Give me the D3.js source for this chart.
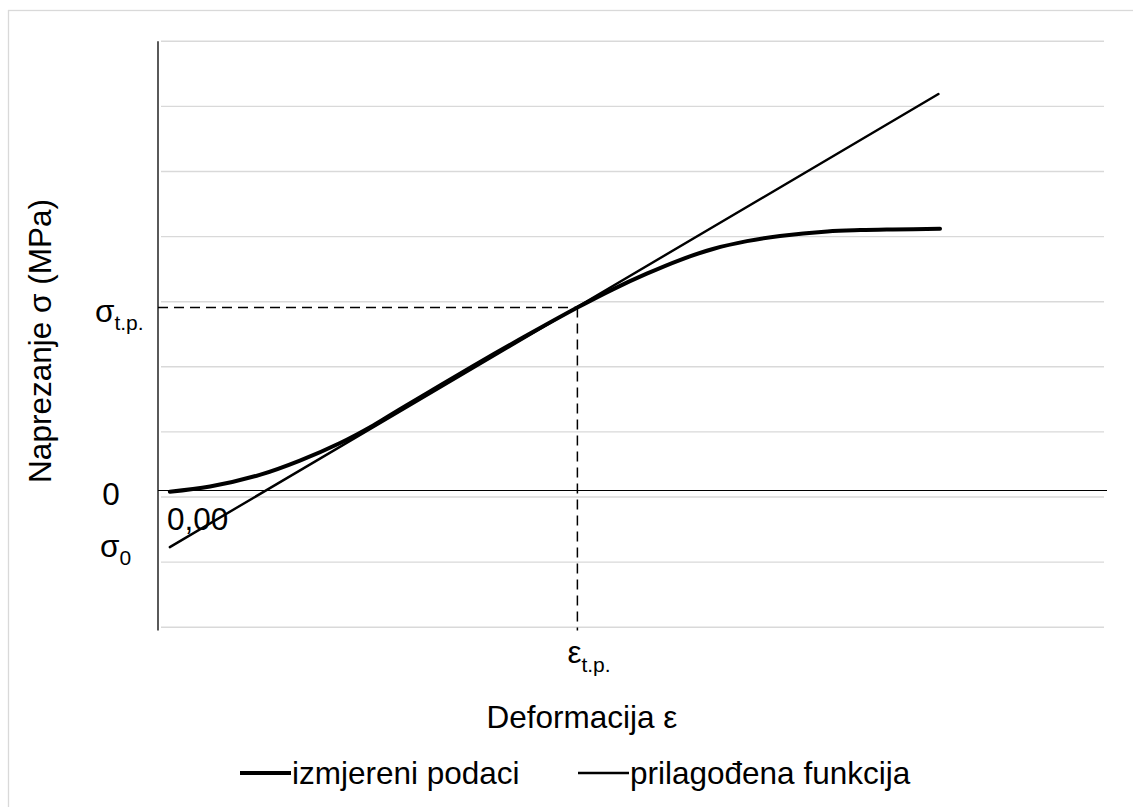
<!DOCTYPE html>
<html lang="hr">
<head>
<meta charset="UTF-8">
<title>Naprezanje - deformacija</title>
<script src="https://d3js.org/d3.v7.min.js"></script>
<style>
  body { margin: 0; background: #fff; }
  svg text { font-family: "Liberation Sans", Arial, sans-serif; fill: #000; }
</style>
</head>
<body>
<svg width="1133" height="807"></svg>
<script>
// izmjereni podaci (deformacija, naprezanje)
const measX = [0.15, 0.66, 1.29, 1.80, 2.31, 2.73, 3.07, 3.45, 4.08, 4.72, 5.32, 5.77, 6.20, 6.62, 7.04, 7.47, 7.89, 8.49, 8.91, 9.32, 9.92];
const measY = [-0.02, 0.06, 0.24, 0.46, 0.73, 1.00, 1.25, 1.52, 1.97, 2.41, 2.81, 3.09, 3.33, 3.54, 3.71, 3.83, 3.91, 3.98, 4.00, 4.01, 4.02];

// prilagođena funkcija (pravac)
const fitX = [0.15, 9.9];
const fitY = [-0.87, 6.09];

// točka prijelaza
const epsTp = 5.32;
const sigTp = 2.81;
const sigma0 = -0.87;

const gridVals = [-2.1, -1.1, -0.1, 0.9, 1.9, 2.9, 3.9, 4.9, 5.9, 6.9];
const seriesNames = ["izmjereni podaci", "prilagođena funkcija"];

const svg = d3.select("svg");

const x = d3.scaleLinear().domain([0, 12]).range([158, 1104]);
const y = d3.scaleLinear().domain([-2.1, 6.9]).range([627.2, 41.3]);

const fs = 31.5, fsSub = 21;

// okvir
svg.append("rect")
  .attr("x", 8.5).attr("y", 10.5)
  .attr("width", 1140).attr("height", 820)
  .attr("fill", "none").attr("stroke", "#d9d9d9").attr("stroke-width", 1.3);

// mreža
svg.selectAll(".grid")
  .data(gridVals)
  .enter().append("line")
  .attr("class", "grid")
  .attr("x1", 161).attr("x2", x.range()[1])
  .attr("y1", d => y(d)).attr("y2", d => y(d))
  .attr("stroke", "#d9d9d9").attr("stroke-width", 1.4);

// osi
svg.append("line")
  .attr("x1", x(0)).attr("x2", x(0))
  .attr("y1", y(6.9)).attr("y2", y(-2.15))
  .attr("stroke", "#000").attr("stroke-width", 1.3);
svg.append("line")
  .attr("x1", x(0)).attr("x2", x(12) + 3)
  .attr("y1", y(0)).attr("y2", y(0))
  .attr("stroke", "#000").attr("stroke-width", 1.1);

// isprekidane linije
svg.append("line")
  .attr("x1", x(0)).attr("x2", x(epsTp))
  .attr("y1", y(sigTp)).attr("y2", y(sigTp))
  .attr("stroke", "#000").attr("stroke-width", 1.5).attr("stroke-dasharray", "10 6");
svg.append("line")
  .attr("x1", x(epsTp)).attr("x2", x(epsTp))
  .attr("y1", y(sigTp)).attr("y2", y(-2.15))
  .attr("stroke", "#000").attr("stroke-width", 1.5).attr("stroke-dasharray", "10 6");

// serije
const line = d3.line().x(d => x(d[0])).y(d => y(d[1]));
svg.append("path")
  .datum(fitX.map((v, i) => [v, fitY[i]]))
  .attr("d", line)
  .attr("fill", "none").attr("stroke", "#000").attr("stroke-width", 2.4)
  .attr("stroke-linecap", "round");
svg.append("path")
  .datum(measX.map((v, i) => [v, measY[i]]))
  .attr("d", line.curve(d3.curveCatmullRom))
  .attr("fill", "none").attr("stroke", "#000").attr("stroke-width", 4)
  .attr("stroke-linecap", "round");

// oznake
svg.append("text").attr("x", 167).attr("y", y(0) + 39.5)
  .attr("font-size", fs).text("0,00");

svg.append("text").attr("x", 111).attr("y", y(0) + 15)
  .attr("font-size", fs).attr("text-anchor", "middle").text("0");

const sTp = svg.append("text").attr("x", 95).attr("y", y(sigTp) + 14.5).attr("font-size", fs);
sTp.append("tspan").text("σ");
sTp.append("tspan").attr("font-size", fsSub).attr("dy", 8).text("t.p.");

const s0 = svg.append("text").attr("x", 100).attr("y", y(sigma0) + 10).attr("font-size", fs);
s0.append("tspan").text("σ");
s0.append("tspan").attr("font-size", fsSub).attr("dy", 8).text("0");

const eTp = svg.append("text").attr("x", x(epsTp) - 10).attr("y", 663).attr("font-size", fs);
eTp.append("tspan").text("ε");
eTp.append("tspan").attr("font-size", fsSub).attr("dy", 9).text("t.p.");

// naslovi osi
svg.append("text").attr("x", 582).attr("y", 728)
  .attr("font-size", fs).attr("text-anchor", "middle").text("Deformacija ε");
svg.append("text").attr("transform", "translate(51,341) rotate(-90)")
  .attr("font-size", fs).attr("text-anchor", "middle").text("Naprezanje σ (MPa)");

// legenda
const legend = [
  { name: seriesNames[0], x0: 240, w: 4 },
  { name: seriesNames[1], x0: 578, w: 2.4 }
];
legend.forEach(l => {
  svg.append("line")
    .attr("x1", l.x0).attr("x2", l.x0 + 51)
    .attr("y1", 773).attr("y2", 773)
    .attr("stroke", "#000").attr("stroke-width", l.w);
  svg.append("text").attr("x", l.x0 + 52).attr("y", 784)
    .attr("font-size", fs).text(l.name);
});
</script>
</body>
</html>
